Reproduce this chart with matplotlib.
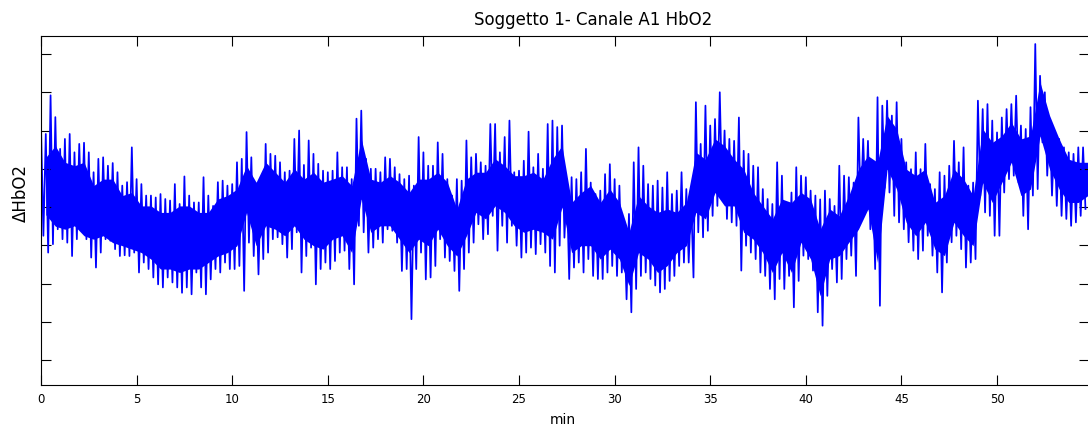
import matplotlib
matplotlib.use("Agg")
import matplotlib.pyplot as plt
import numpy as np

# HbO2 trace.
# spikes: upper/lower extremes per 0.25-min bin
bin_min = 0.25
hbo2_hi = [
    2.15, 1.91, 2.92, 2.35, 1.52, 1.78, 1.91, 1.43, 1.65, 1.68, 1.43, 0.91, 1.26,
    1.30, 1.08, 1.15, 0.91, 0.56, 0.65, 1.56, 0.73, 0.60, 0.30, 0.30, 0.25, 0.34,
    0.21, 0.17, 0.60, 0.08, 0.80, 0.30, 0.12, 0.12, 0.78, 0.30, 0.03,
    0.65, 0.69, 0.56, 0.60, 1.17, 1.26, 1.96, 1.30, 0.56, 0.73, 1.65, 1.39, 1.34,
    1.17, 0.91, 0.95, 1.78, 2.00, 1.10, 1.74, 1.39, 1.13, 0.95, 0.91, 0.95, 1.43,
    1.04, 1.04, 0.73, 2.31, 2.52, 1.26, 1.00, 1.00, 0.91, 1.30, 1.26,
    1.04, 0.86, 0.73, 0.82, 0.56, 1.83, 1.43, 1.08, 1.08, 1.69, 1.39, 0.73, 0.30,
    0.73, 0.69, 1.74, 1.30, 1.39, 1.17, 1.08, 2.17, 2.17, 1.43, 1.83, 2.26, 0.91,
    0.95, 1.21, 1.97, 1.04, 1.39, 1.00, 2.17, 2.26, 2.09, 2.13,
    0.60, 0.78, 0.73, 0.91, 1.52, 0.64, 0.34, 0.43, 0.86, 1.12, 0.73, 0.56, -0.35,
    -0.18, 1.17, 1.56, 1.08, 0.60, 0.56, 0.69, 0.51, 0.91, 0.34, 0.43, 0.91, 0.47,
    0.25, 2.74, 1.65, 2.65, 2.13, 2.30, 3.00, 2.00, 1.78, 1.73, 2.34, 1.47, 1.39,
    1.08, 1.04, 0.47, 0.21, 0.08, 1.17, 0.82, 0.08, 0.38, 1.04, 0.82, 0.78, 0.43,
    0.30,
    0.20, 0.43, 0.21, 0.03, 1.08, 0.82, 0.78, 0.64, 2.34, 1.78, 1.73, 0.82, 2.87,
    2.65, 2.78, 2.39, 2.74, 1.78, 1.17, 0.99, 1.43, 0.99, 1.65, 0.60, 0.47, 0.91,
    0.82, 1.08, 1.73, 1.17, 1.56, 0.56, 0.64, 2.78, 2.56, 2.69, 2.26, 1.95, 2.34,
    2.56, 2.69, 2.91, 2.13, 2.04, 2.61, 4.26, 3.43, 3.00, 2.26, 1.95, 1.78, 1.56,
    1.43, 1.39, 1.56, 1.56,
]
hbo2_lo = [
    -0.75, -1.19, -0.97, -0.58, -0.84, -0.93, -1.28, -0.84, -0.49, -0.84, -1.32,
    -1.58, -1.19, -0.84, -0.88, -1.10, -1.28, -1.26, -1.28, -1.19, -1.71, -1.45,
    -1.62, -1.84, -2.02, -2.10, -1.84, -1.97, -2.10, -2.24, -2.10, -2.28, -1.71,
    -2.10, -2.28, -1.89, -1.62,
    -1.71, -1.45, -1.62, -1.62, -1.54, -2.19, -0.93, -1.28, -1.76, -1.36, -1.19,
    -0.84, -0.79, -0.97, -1.32, -1.10, -0.66, -1.71, -1.28, -1.06, -2.02, -1.62,
    -1.45, -1.62, -1.41, -1.19, -1.14, -1.62, -2.02, -0.49, -0.66, -1.19, -1.06,
    -0.84, -0.93, -0.58, -0.62,
    -0.93, -1.67, -1.62, -2.93, -1.62, -1.19, -1.89, -1.84, -1.54, -0.84, -1.32,
    -1.41, -1.67, -2.19, -1.62, -1.19, -0.93, -0.45, -0.84, -0.71, -0.23, -1.14,
    -0.49, -0.93, -0.49, -1.01, -1.32, -1.19, -1.06, -1.23, -0.97, -1.19, -1.54,
    -1.71, -1.01, -0.80,
    -1.88, -1.58, -1.45, -1.71, -1.36, -1.80, -1.88, -1.88, -1.71, -1.54, -1.80,
    -1.71, -2.41, -2.75, -2.14, -1.80, -1.71, -1.88, -2.05, -2.23, -2.14, -1.93,
    -1.80, -1.54, -1.45, -1.45, -1.84, -0.66, -0.79, -0.62, -0.23, 0.03, 0.21,
    -0.31, -0.40, -0.49, -1.66, -1.01, -1.19, -1.36, -1.71, -1.80, -2.14, -2.41,
    -1.88, -2.14, -1.80, -2.62, -1.93, -1.27, -1.36, -1.66, -2.75,
    -3.10, -2.32, -1.62, -1.97, -1.88, -1.36, -1.27, -1.80, -0.05, -0.05, -0.58,
    -1.62, -2.58, 0.50, 0.38, -0.23, -0.40, -0.58, -0.92, -1.14, -1.36, -1.14,
    -0.75, -1.27, -1.71, -2.23, -1.45, -0.92, -0.75, -1.10, -1.58, -1.45, -1.36,
    0.30, -0.14, -0.23, -0.75, -0.75, 0.38, 0.73, 0.82, 0.64, -0.23, -0.58, 0.30,
    0.47, 1.69, 0.82, 0.30, 0.03, -0.23, -0.31, -0.49, -0.40, -0.23, -0.05,
]
# dense core of the trace, top/bottom per 0.5-min bin
core_bin_min = 0.5
core_top = [
    1.30, 1.60, 1.17, 1.08, 1.17, 0.56, 0.73, 0.73, 0.30, 0.38, 0.03, 0.03, -0.14,
    -0.14, 0.03, 0.03, -0.14, -0.14,
    0.21, 0.30, 0.47, 1.08, 0.65, 1.17, 0.91, 0.65, 1.00, 0.73, 0.91, 0.65, 0.73,
    0.82, 0.56, 1.78, 0.73, 0.65, 0.82,
    0.65, 0.38, 0.73, 0.73, 0.91, 0.65, -0.05, 0.73, 0.91, 0.91, 1.26, 1.08, 0.82,
    0.82, 0.91, 0.73, 1.26, 1.60,
    0.12, 0.38, 0.56, 0.12, 0.47, 0.12, -0.66, 0.30, 0.03, -0.14, -0.05, -0.14,
    0.12, 1.43, 1.25, 1.78, 1.60, 1.25, 0.99, 0.38, 0.03, -0.31, 0.21, 0.12, 0.38,
    0.21,
    -0.58, -0.05, -0.23, 0.30, 0.99, 1.34, 1.17, 2.39, 2.04, 0.99, 0.82, 0.99, 0.12,
    0.30, 0.99, 0.73, 0.30, 2.04, 1.69, 1.86, 2.21, 1.78, 1.86, 3.26, 2.39, 1.78,
    1.25, 1.17, 1.17,
]
core_bot = [
    -0.20, -0.50, -0.58, -0.49, -0.75, -0.84, -0.75, -0.93, -1.01, -1.10, -1.19,
    -1.36, -1.62, -1.62, -1.71, -1.62, -1.62, -1.45,
    -1.28, -1.19, -1.01, -0.14, -1.01, -0.49, -0.58, -0.75, -0.49, -0.84, -1.01,
    -1.10, -0.84, -0.75, -1.19, 0.21, -0.66, -0.49, -0.49,
    -0.84, -1.19, -0.84, -1.01, -0.58, -1.01, -1.28, -0.75, -0.14, -0.31, 0.03,
    -0.14, -0.49, -0.66, -0.58, -0.66, -0.84, 0.00,
    -1.19, -1.01, -1.01, -1.36, -1.10, -1.36, -2.05, -1.19, -1.36, -1.71, -1.53,
    -1.19, -1.01, -0.14, -0.31, 0.38, 0.03, 0.03, -0.66, -0.84, -1.19, -1.71,
    -1.19, -1.71, -0.92, -1.36,
    -2.32, -1.36, -1.27, -0.92, -0.58, -0.05, -1.45, 0.99, 0.47, -0.40, -0.75,
    -0.40, -1.10, -1.27, -0.40, -0.75, -1.01, 0.64, 0.12, 0.64, 1.17, 0.30, 0.47,
    1.86, 0.99, 0.47, 0.12, 0.12, 0.30,
]
x_ticks = [0, 5, 10, 15, 20, 25, 30, 35, 40, 45, 50]
y_ticks = [-4, -3, -2, -1, 0, 1, 2, 3, 4]

title = "Soggetto 1- Canale A1 HbO2"
x_label = "min"
y_label = "\u0394HbO2"

BLUE = (0, 0, 1)


def plot(ax):
    hi = np.asarray(hbo2_hi)
    lo = np.asarray(hbo2_lo)
    t = np.arange(len(hi)) * bin_min
    # each bin goes up to its max then down to its min
    xs = np.column_stack([t, t + bin_min / 2]).ravel()
    ys = np.column_stack([hi, lo]).ravel()
    ax.plot(xs, ys, color=BLUE, linewidth=1.25)

    tc = np.arange(len(core_top)) * core_bin_min + core_bin_min / 2
    ax.fill_between(tc, core_bot, core_top, color=BLUE, linewidth=0)

    ax.set_xlim(0, 54.81)
    ax.set_ylim(-4.65, 4.47)
    ax.set_xticks(x_ticks)
    ax.set_yticks(y_ticks)
    ax.tick_params(labelleft=False)
    ax.tick_params(direction="in", top=True, right=True, length=7, width=0.8,
                   labelsize=8.5, pad=5, colors="black")
    for s in ax.spines.values():
        s.set_linewidth(0.8)

    ax.set_title(title, x=0.527, y=1.049, va="center", pad=0, fontsize=12)
    ax.set_xlabel(x_label, fontsize=10)
    ax.xaxis.set_label_coords(0.4976, -0.097)
    ax.xaxis.label.set_verticalalignment("center")
    ax.set_ylabel(y_label, fontsize=12)
    ax.yaxis.set_label_coords(-0.019, 0.553)
    ax.yaxis.label.set_verticalalignment("center")


def main():
    plt.rcParams["font.family"] = ["DejaVu Sans"]
    fig = plt.figure(figsize=(10.88, 4.27), dpi=100)
    ax = fig.add_axes([41 / 1088, 1 - 386 / 427, 1048 / 1088, 349 / 427])
    plot(ax)
    fig.savefig("out.png", dpi=100)


if __name__ == "__main__":
    main()
